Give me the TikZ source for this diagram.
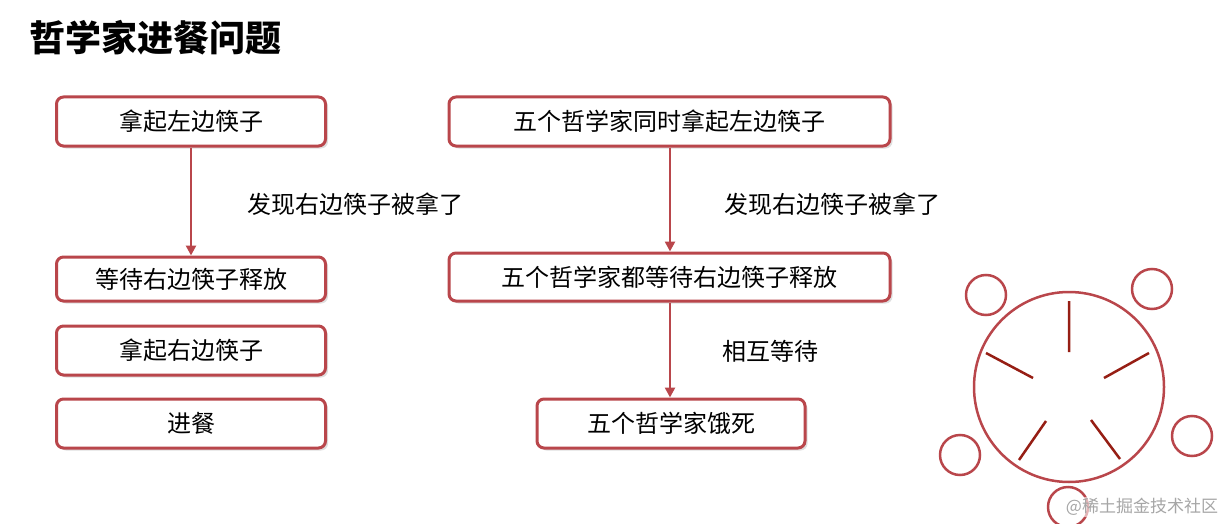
\documentclass[tikz,border=0pt]{standalone}
\usepackage{fontspec}
\setmainfont{Noto Sans CJK SC}
\usetikzlibrary{shadows,arrows.meta}
\definecolor{bred}{RGB}{185,70,75}
\definecolor{spk}{RGB}{150,30,20}
\begin{document}
\begin{tikzpicture}[x=1pt,y=-1pt,
 box/.style={draw=bred,line width=3pt,rounded corners=7pt,fill=white,drop shadow={opacity=0.25,shadow xshift=2.5pt,shadow yshift=-2.5pt},font=\fontsize{24}{28}\selectfont,inner sep=0pt},
 lbl/.style={font=\fontsize{24}{28}\selectfont},
 arr/.style={draw=bred,line width=2.5pt,-{Triangle[length=10pt,width=10pt]}},
 ring/.style={draw=bred,line width=2.5pt}]
\useasboundingbox (0,0) rectangle (1228,524);
\node[anchor=west,font=\fontsize{36}{40}\selectfont\bfseries] (t) at (26,38) {哲学家进餐问题};
\node[box,minimum width=269pt,minimum height=49pt] (a1) at (191,121.5) {拿起左边筷子};
\node[box,minimum width=269pt,minimum height=44pt] (a2) at (191,279) {等待右边筷子释放};
\node[box,minimum width=269pt,minimum height=49pt] (a3) at (191,350.5) {拿起右边筷子};
\node[box,minimum width=269pt,minimum height=49pt] (a4) at (191,423.5) {进餐};
\node[box,minimum width=441pt,minimum height=49pt] (b1) at (669.5,121.5) {五个哲学家同时拿起左边筷子};
\node[box,minimum width=441pt,minimum height=48pt] (b2) at (669.5,277) {五个哲学家都等待右边筷子释放};
\node[box,minimum width=268pt,minimum height=49pt] (b3) at (671,423.5) {五个哲学家饿死};
\draw[arr] (a1) -- (a2);
\draw[arr] (b1.south -| 670,0) -- (b2.north -| 670,0);
\draw[arr] (b2.south -| 670,0) -- (b3.north -| 670,0);
\node[lbl] (l1) at (355,204) {发现右边筷子被拿了};
\node[lbl] (l2) at (832,204) {发现右边筷子被拿了};
\node[lbl] (l3) at (770,351) {相互等待};
\node[ring,circle,minimum size=190pt] (big) at (1069,387) {};
\foreach \n/\p in {c1/{(986,295)},c2/{(1152,289)},c3/{(1192,436)},c4/{(960,455)},c5/{(1068,507)}}
  \node[ring,circle,minimum size=40pt] (\n) at \p {};
\draw[spk,line width=2.5pt] (1069,301) -- (1069,352) (986,353) -- (1033,378) (1149,353) -- (1104,378) (1046,421) -- (1019,460) (1091,420) -- (1120,459);
\node[font=\fontsize{17}{20}\selectfont,text=gray!70,fill=white,fill opacity=0.6,text opacity=1,inner sep=1pt] (wm) at (1142,507) {@稀土掘金技术社区};
\end{tikzpicture}
\end{document}
